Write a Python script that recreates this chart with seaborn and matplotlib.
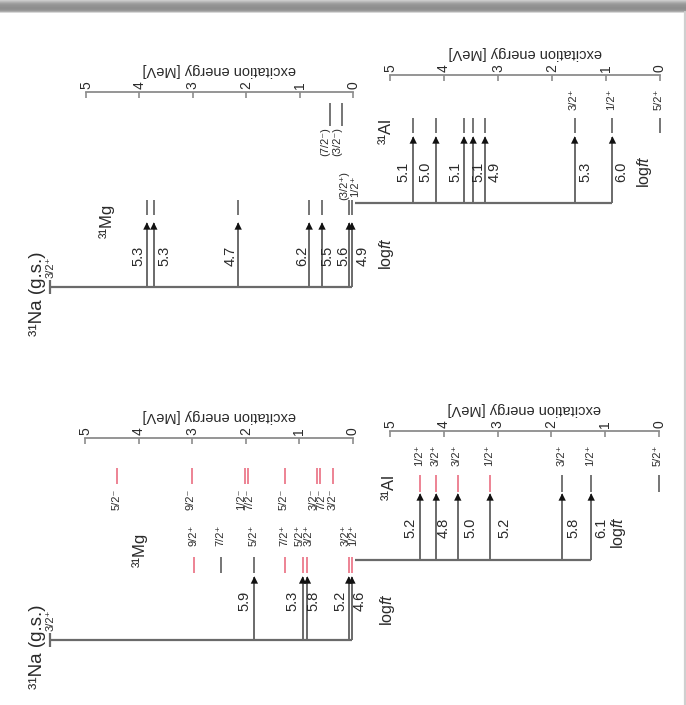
import numpy as np
import pandas as pd
import matplotlib
matplotlib.use("Agg")
import matplotlib.pyplot as plt
from matplotlib.lines import Line2D
import seaborn as sns

# ---------------- data ----------------
energy_ticks = [0, 1, 2, 3, 4, 5]

# upper scheme: 31Na -> 31Mg
top_mg_energy = [3.86, 3.73, 2.15, 0.82, 0.58, 0.07, 0.02]
top_mg_logft = [5.3, 5.3, 4.7, 6.2, 5.5, 5.6, 4.9]
top_mg_spin = ["", "", "", "", "", "(3/2⁺)", "1/2⁺"]
top_mg_other_energy = [0.43, 0.21]
top_mg_other_spin = ["(7/2⁻)", "(3/2⁻)"]
# upper scheme: 31Mg -> 31Al
top_al_energy = [4.57, 4.15, 3.63, 3.46, 3.24, 1.58, 0.88]
top_al_logft = [5.1, 5.0, 5.1, 5.1, 4.9, 5.3, 6.0]
top_al_spin = ["", "", "", "", "", "3/2⁺", "1/2⁺"]
al_gs_spin = "5/2⁺"

# lower scheme: 31Na -> 31Mg
bot_mg_energy = [1.84, 0.94, 0.85, 0.08, 0.02]
bot_mg_logft = [5.9, 5.3, 5.8, 5.2, 4.6]
bot_mg_pos_energy = [2.96, 2.46, 1.84, 1.27, 0.94, 0.85, 0.08, 0.02]
bot_mg_pos_spin = ["9/2⁺", "7/2⁺", "5/2⁺", "7/2⁺", "5/2⁺", "3/2⁺", "3/2⁺", "1/2⁺"]
bot_mg_pos_class = ["b", "a", "a", "b", "b", "b", "b", "b"]
bot_mg_neg_energy = [4.40, 3.01, 2.02, 1.95, 1.27, 0.67, 0.62, 0.37]
bot_mg_neg_spin = ["5/2⁻", "9/2⁻", "1/2⁻", "7/2⁻", "5/2⁻", "3/2⁻", "7/2⁻", "3/2⁻"]
# lower scheme: 31Mg -> 31Al
bot_al_energy = [4.44, 4.14, 3.74, 3.14, 1.80, 1.26]
bot_al_logft = [5.2, 4.8, 5.0, 5.2, 5.8, 6.1]
bot_al_spin = ["1/2⁺", "3/2⁺", "3/2⁺", "1/2⁺", "3/2⁺", "1/2⁺"]
bot_al_class = ["b", "b", "b", "b", "a", "a"]

na_spin = "3/2⁺"

# label offsets from their line, in pixels (layout only)
top_mg_dx = [-8, 11, -8, -7, 5, -6, 11]
top_al_dx = [-10, -10, -9, 5, 10, 11, 9]
bot_mg_dx = [-10, -10, 6, -8, 8]
bot_al_dx = [-10, 7, 13, 14, 11, 10]

# ---------------- style ----------------
sns.set_theme(style="white")
plt.rcParams['font.family'] = ['Liberation Sans', 'DejaVu Sans']
plt.rcParams['mathtext.fontset'] = 'custom'
plt.rcParams['mathtext.rm'] = 'Liberation Sans'
plt.rcParams['mathtext.it'] = 'Liberation Sans:italic'
SMALL_FAMILY = ['Liberation Sans Narrow', 'Liberation Sans', 'DejaVu Sans']

FIG_W, FIG_H = 686, 705
PT = 0.72
TXT = '#2a2a2a'
LINE = '#6a6a6a'
AXC = '#8c8c8c'
RED = '#ec7a8b'
CLASS_COLOR = {"a": LINE, "b": RED}

fig = plt.figure(figsize=(FIG_W / 100, FIG_H / 100), dpi=100)
fig.patch.set_facecolor('white')

# window-like frame of the screenshot
band = fig.add_axes([0, 1 - 13 / FIG_H, 1, 13 / FIG_H])
shade = np.array([0.80, 0.74, 0.68, 0.63, 0.60, 0.58, 0.57, 0.56, 0.56, 0.57, 0.60, 0.68, 0.85])
band.imshow(np.repeat(shade[:, None, None], 3, axis=2), aspect='auto', interpolation='bilinear')
band.axis('off')
fig.add_artist(Line2D([684.5 / FIG_W] * 2, [0, 1 - 12 / FIG_H], color='#cfcfcf', lw=1.6,
                      transform=fig.transFigure))


def scheme_axes(x5, x0, axis_y, bottom):
    ax = fig.add_axes([x5 / FIG_W, 1 - bottom / FIG_H, (x0 - x5) / FIG_W, (bottom - axis_y) / FIG_H])
    ax.set_xlim(5, 0)
    ax.set_ylim(bottom - axis_y, 0)
    ax.set_autoscale_on(False)
    ax.patch.set_alpha(0)
    return ax


def finish_axes(ax):
    ax.set_xlim(5, 0)
    for s in ['left', 'right', 'bottom']:
        ax.spines[s].set_visible(False)
    ax.spines['top'].set_color(AXC)
    ax.spines['top'].set_linewidth(1.3)
    ax.xaxis.tick_top()
    ax.set_xticks(energy_ticks)
    ax.set_xticklabels([str(t) for t in energy_ticks])
    ax.tick_params(axis='x', which='major', direction='in', length=4, width=1.2, color=AXC,
                   pad=2.5, labelsize=10, labelcolor=TXT, labelrotation=90)
    ax.set_yticks([])
    ax.set_ylabel('')
    ax.xaxis.set_label_position('top')
    ax.set_xlabel('excitation energy [MeV]', fontsize=10.5, color=TXT, labelpad=5)
    ax.xaxis.label.set_rotation(180)


def spread(ax, energies, min_sep):
    xs = np.array([ax.transData.transform((e, 0))[0] for e in energies], dtype=float)
    order = np.argsort(xs)
    pos = xs[order].copy()
    for _ in range(100):
        moved = False
        for i in range(1, len(pos)):
            d = pos[i] - pos[i - 1]
            if d < min_sep - 1e-6:
                sh = (min_sep - d) / 2
                pos[i - 1] -= sh
                pos[i] += sh
                moved = True
        if not moved:
            break
    out = np.empty_like(pos)
    out[order] = pos
    inv = ax.transData.inverted()
    return [inv.transform((x, 0))[0] for x in out]


def rtext(ax, e, y, s, size, dx=0, color=TXT, **kw):
    ax.annotate(s, xy=(e, y), xytext=(dx * PT, 0), textcoords='offset points', rotation=90,
                ha='center', va='center', fontsize=size, color=color, annotation_clip=False, **kw)


def transitions(ax, ay, energies, logft, dxs, y_from, y_arrow, y_ft):
    ax.vlines(energies, y_from - ay, y_arrow - ay, color=LINE, lw=1.4, clip_on=False)
    df = pd.DataFrame({'energy': energies, 'y': [y_arrow + 3 - ay] * len(energies)})
    sns.scatterplot(data=df, x='energy', y='y', marker='^', s=28, color='#111111',
                    edgecolor='none', ax=ax, legend=False, clip_on=False, zorder=5)
    for e, v, dx in zip(energies, logft, dxs):
        rtext(ax, e, y_ft - ay, f"{v:.1f}", 10.5, dx=dx)


def levels(ax, ay, energies, colors, y0, y1, spins, y_lab, lab_dx=-1, sep=8.5):
    ax.vlines(energies, y0 - ay, y1 - ay, colors=colors, lw=1.3, clip_on=False)
    idx = [i for i, s in enumerate(spins) if s]
    if not idx:
        return
    xs = spread(ax, [energies[i] for i in idx], sep)
    for k, i in enumerate(idx):
        rtext(ax, xs[k], y_lab - ay, spins[i], 8, dx=lab_dx, family=SMALL_FAMILY)


def parent(ax, ay, y, e_start, energies, tick=None, spin=None, label=None):
    ax.hlines(y - ay, e_start, min(energies), color=LINE, lw=1.6, clip_on=False)
    if tick is not None:
        ax.vlines([e_start], y - tick - ay, y + tick - ay, color=LINE, lw=1.6, clip_on=False)
    if spin:
        rtext(ax, e_start, y - 20 - ay, spin, 8, dx=1, family=SMALL_FAMILY)
    if label:
        rtext(ax, e_start, y + 7 - ay, label, 13.5, dx=-13)


def gs_of(ax_from, ax_to):
    xd = ax_from.transData.transform((0, 0))[0]
    return ax_to.transData.inverted().transform((xd + 2, 0))[0]


# ======== upper scheme ========
ax1 = scheme_axes(86, 353, 92, 300)
ay = 92
NA_E = 5 + 36 / 53.4
parent(ax1, ay, 287, NA_E, top_mg_energy, tick=7, spin=na_spin, label="³¹Na (g.s.)")
transitions(ax1, ay, top_mg_energy, top_mg_logft, top_mg_dx, 287, 223, 256)
levels(ax1, ay, top_mg_energy, [LINE] * len(top_mg_energy), 200, 215, top_mg_spin, 186, sep=10)
levels(ax1, ay, top_mg_other_energy, [LINE] * 2, 103, 126, top_mg_other_spin, 142, lab_dx=-5, sep=11)
rtext(ax1, 4.6, 221 - ay, "³¹Mg", 12)
rtext(ax1, -0.62, 254 - ay, r"log$\mathit{ft}$", 11.5)
finish_axes(ax1)

ax2 = scheme_axes(390, 660, 75, 215)
ay = 75
parent(ax2, ay, 203, gs_of(ax1, ax2), top_al_energy)
transitions(ax2, ay, top_al_energy, top_al_logft, top_al_dx, 203, 137, 172)
levels(ax2, ay, top_al_energy + [0.0], [LINE] * (len(top_al_energy) + 1), 118, 133,
       top_al_spin + [al_gs_spin], 99)
rtext(ax2, 5.06, 131 - ay, "³¹Al", 12)
rtext(ax2, 0.28, 172 - ay, r"log$\mathit{ft}$", 11.5)
finish_axes(ax2)

# ======== lower scheme ========
ax3 = scheme_axes(85, 353, 438, 655)
ay = 438
NA_E2 = 5 + 35 / 53.6
parent(ax3, ay, 640, NA_E2, bot_mg_energy, tick=7, spin=na_spin, label="³¹Na (g.s.)")
transitions(ax3, ay, bot_mg_energy, bot_mg_logft, bot_mg_dx, 640, 577, 601)
levels(ax3, ay, bot_mg_pos_energy, [CLASS_COLOR[c] for c in bot_mg_pos_class], 557, 573,
       bot_mg_pos_spin, 535)
levels(ax3, ay, bot_mg_neg_energy, [RED] * len(bot_mg_neg_energy), 468, 484,
       bot_mg_neg_spin, 499)
rtext(ax3, 3.97, 550 - ay, "³¹Mg", 12)
rtext(ax3, -0.64, 610 - ay, r"log$\mathit{ft}$", 11.5)
finish_axes(ax3)

ax4 = scheme_axes(390, 659, 431, 570)
ay = 431
parent(ax4, ay, 560, gs_of(ax3, ax4), bot_al_energy)
transitions(ax4, ay, bot_al_energy, bot_al_logft, bot_al_dx, 560, 494, 528)
levels(ax4, ay, bot_al_energy + [0.0], [CLASS_COLOR[c] for c in bot_al_class] + [LINE], 475, 492,
       bot_al_spin + [al_gs_spin], 455)
rtext(ax4, 5.02, 487 - ay, "³¹Al", 12)
rtext(ax4, 0.76, 533 - ay, r"log$\mathit{ft}$", 11.5)
finish_axes(ax4)

fig.savefig("out.png", dpi=100, facecolor='white')
